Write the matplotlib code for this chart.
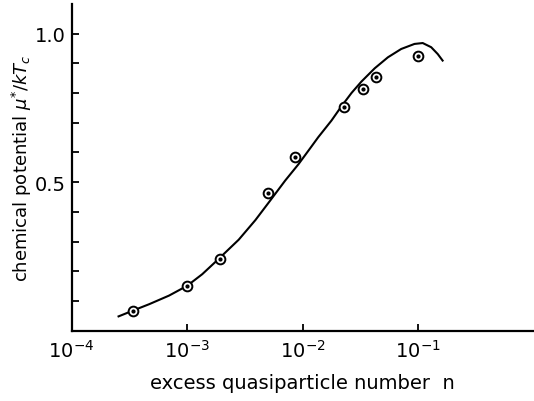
import matplotlib.pyplot as plt
import numpy as np

n_pts = [3.42e-4, 1.0e-3, 1.92e-3, 5.0e-3, 8.5e-3, 2.28e-2, 3.33e-2, 4.3e-2, 0.099]
mu_pts = [0.067, 0.151, 0.242, 0.463, 0.584, 0.754, 0.815, 0.854, 0.926]

# theoretical curve
n_curve = [2.55e-4, 3.42e-4, 4.69e-4, 6.97e-4, 1.0e-3, 1.35e-3, 1.82e-3, 2.79e-3,
           3.89e-3, 5.23e-3, 7.04e-3, 9.17e-3, 1.19e-2, 1.36e-2, 1.77e-2,
           2.16e-2, 2.64e-2, 3.21e-2, 4.19e-2, 5.45e-2, 7.10e-2, 9.25e-2,
           0.109, 0.129, 0.147, 0.162]
mu_curve = [0.048, 0.068, 0.089, 0.118, 0.151, 0.190, 0.237, 0.306,
            0.372, 0.438, 0.505, 0.560, 0.620, 0.651, 0.707,
            0.755, 0.800, 0.838, 0.883, 0.920, 0.948, 0.965,
            0.968, 0.954, 0.931, 0.909]

xticks = [1e-4, 1e-3, 1e-2, 1e-1]
xticklabels = ['$10^{-4}$', '$10^{-3}$', '$10^{-2}$', '$10^{-1}$']
yticks = [0.1, 0.2, 0.3, 0.4, 0.5, 0.6, 0.7, 0.8, 0.9, 1.0]
yticklabels = ['', '', '', '', '0.5', '', '', '', '', '1.0']

plt.rcParams['mathtext.fontset'] = 'dejavusans'

fig = plt.figure(figsize=(5.34, 4.02), dpi=100)
ax = fig.add_axes([0.134, 0.175, 0.866, 0.813])

ax.plot(n_curve, mu_curve, color='black', lw=1.5)
ax.plot(n_pts, mu_pts, 'o', ms=7, mfc='white', mec='black', mew=1.4)
ax.plot(n_pts, mu_pts, 'o', ms=2, color='black')

ax.set_xscale('log')
ax.set_xlim(1e-4, 1e0)
ax.set_ylim(0, 1.1)
ax.set_xticks(xticks)
ax.set_xticklabels(xticklabels)
ax.minorticks_off()
ax.set_yticks(yticks)
ax.set_yticklabels(yticklabels)

for s in ['top', 'right']:
    ax.spines[s].set_visible(False)
for s in ['left', 'bottom']:
    ax.spines[s].set_linewidth(1.6)

ax.tick_params(axis='both', direction='in', length=5, width=1.3, labelsize=14)
ax.tick_params(axis='x', pad=6)
ax.tick_params(axis='y', pad=4)

ax.set_xlabel('excess quasiparticle number  n', fontsize=14, labelpad=9)
ax.set_ylabel('chemical potential $\\mu^{*}/kT_c$', fontsize=13, labelpad=1)

plt.savefig('out.png', dpi=100)
